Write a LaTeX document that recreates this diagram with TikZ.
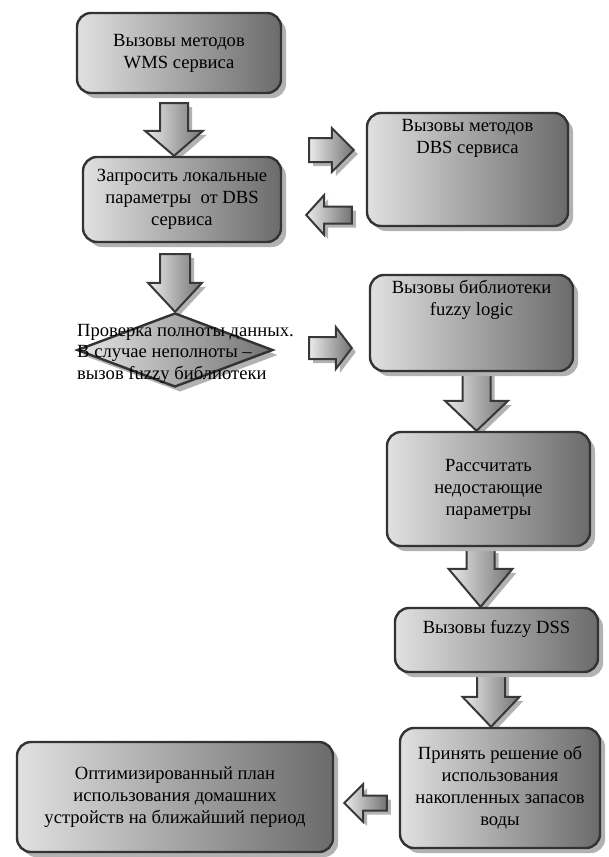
\documentclass[tikz,border=0pt]{standalone}
\usepackage{fontspec}
\setmainfont{Liberation Serif}
\usetikzlibrary{shapes.geometric,shadows,calc,backgrounds}
\tikzset{
  box/.style={draw=black!80, line width=2.4pt, rounded corners=14pt,
    left color=black!12, right color=black!58, align=center, inner sep=0pt,
    font=\fontsize{18.6}{22}\selectfont,
    drop shadow={shadow xshift=5pt, shadow yshift=-5pt, fill=black!30, opacity=1}},
  dia/.style={diamond, draw=black!80, line width=2.4pt, inner sep=0pt,
    left color=black!10, right color=black!55,
    drop shadow={shadow xshift=5pt, shadow yshift=-5pt, fill=black!30, opacity=1}},
  diatext/.style={align=left, inner sep=0pt, font=\fontsize{18.6}{21.5}\selectfont},
  blockarrow/.style={draw=black!78, line width=2pt, line join=miter,
    left color=black!8, right color=black!55,
    drop shadow={shadow xshift=4pt, shadow yshift=-4pt, fill=black!30, opacity=1}}
}
\newcommand{\blockarr}[5]{%
  \coordinate (bA) at #1;
  \coordinate (bB) at #2;
  \coordinate (bH) at ($(bB)!#5!(bA)$);
  \path[blockarrow] ($(bA)!#3!90:(bB)$) -- ($(bH)!#3!90:(bB)$) -- ($(bH)!#4!90:(bB)$)
    -- (bB) -- ($(bH)!#4!-90:(bB)$) -- ($(bH)!#3!-90:(bB)$) -- ($(bA)!#3!-90:(bB)$) -- cycle;
}
\begin{document}
\begin{tikzpicture}[x=1pt,y=-1pt]
\useasboundingbox (0,0) rectangle (609,857);

\node[box, minimum width=204pt, minimum height=80pt] (b1) at (179,53) {Вызовы методов\\WMS сервиса};
\node[box, minimum width=198pt, minimum height=85pt] (b2) at (182,199.5) {Запросить локальные\\параметры~ от DBS\\сервиса};
\node[box, minimum width=201pt, minimum height=113pt, text depth=66pt] (dbs) at (467.5,169.5) {Вызовы методов\\DBS сервиса};
\node[dia, minimum width=196pt, minimum height=74pt] (dm) at (175,350) {};
\node[diatext, anchor=north west] (dmt) at (77,324) {Проверка полноты данных.\\В случае неполноты –\\вызов fuzzy библиотеки};
\node[box, minimum width=203pt, minimum height=96pt, text depth=51pt] (fz) at (471.5,323) {Вызовы библиотеки\\fuzzy logic};
\node[box, minimum width=203pt, minimum height=114pt] (rc) at (488.5,489) {Рассчитать\\недостающие\\параметры};
\node[box, minimum width=203pt, minimum height=64pt, text depth=26.5pt] (dss) at (496.5,640) {Вызовы fuzzy DSS};
\node[box, minimum width=200pt, minimum height=120pt] (dec) at (500,788) {Принять решение об\\использования\\накопленных запасов\\воды};
\node[box, minimum width=316pt, minimum height=110pt] (opt) at (175,797) {Оптимизированный план\\использования домашних\\устройств на ближайший период};

\begin{pgfonlayer}{background}
\blockarr{($(b1.south)+(-5,9)$)}{($(b2.north)+(-8,0)$)}{14pt}{29pt}{25pt}
\blockarr{($(b2.south)+(-7,11)$)}{(dm.north)}{15pt}{27pt}{29pt}
\blockarr{($(b2.east)+(27,-49.5)$)}{($(dbs.west)+(-12,-19.5)$)}{12pt}{22pt}{22pt}
\blockarr{($(dbs.west)+(-14,45.5)$)}{($(b2.east)+(24,15.5)$)}{8.5pt}{20pt}{18pt}
\blockarr{($(dm.east)+(35,-2)$)}{($(fz.west)+(-17,25)$)}{11pt}{21pt}{16pt}
\blockarr{($(fz.south)+(5,0)$)}{($(rc.north)+(-12,0)$)}{14pt}{31.5pt}{30pt}
\blockarr{($(rc.south)+(-8,2)$)}{($(dss.north)+(-16,0)$)}{14pt}{32pt}{38pt}
\blockarr{($(dss.south)+(-5.5,0)$)}{($(dec.north)+(-9,0)$)}{14pt}{28.5pt}{30pt}
\blockarr{($(dec.west)+(-12,15)$)}{($(opt.east)+(10,6)$)}{7.5pt}{19pt}{19pt}
\end{pgfonlayer}
\end{tikzpicture}
\end{document}
